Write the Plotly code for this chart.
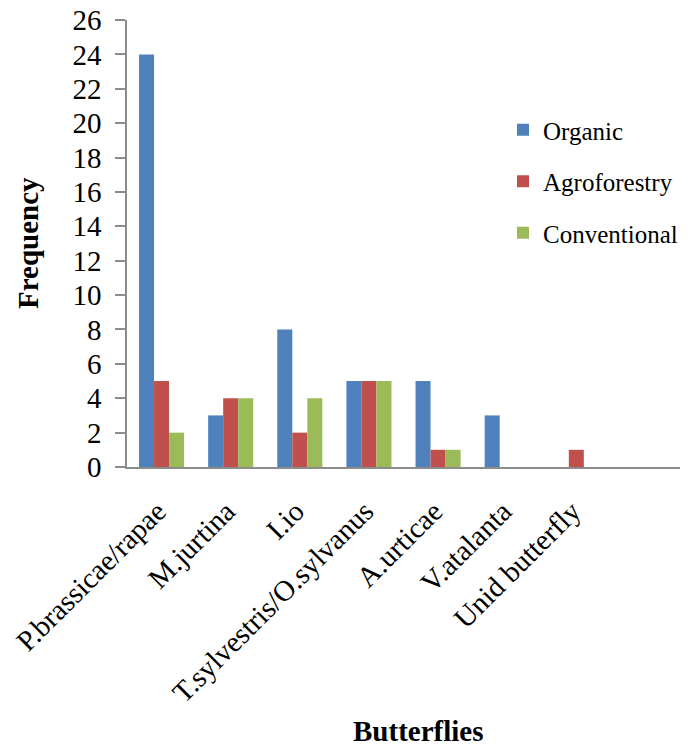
import plotly.graph_objects as go

categories = ["P.brassicae/rapae", "M.jurtina", "I.io", "T.sylvestris/O.sylvanus",
              "A.urticae", "V.atalanta", "Unid butterfly"]
organic = [24, 3, 8, 5, 5, 3, 0]
agroforestry = [5, 4, 2, 5, 1, 0, 1]
conventional = [2, 4, 4, 5, 1, 0, 0]
series_names = ["Organic", "Agroforestry", "Conventional"]
colors = ["#4F81BD", "#C0504D", "#9BBB59"]
y_ticks = list(range(0, 27, 2))

FONT = "Liberation Serif"
W, H = 691, 744
L, R, T, B = 127, 11, 20, 277
pw = W - L - R
ph = H - T - B

fig = go.Figure()
for name, vals, col in zip(series_names, [organic, agroforestry, conventional], colors):
    fig.add_trace(go.Bar(x=categories, y=vals, name=name, marker_color=col,
                         marker_line_width=0, legendgroup=name))

def px_x(p):
    return (p - L) / pw

def px_y(p):
    return (H - B - p) / ph

fig.update_layout(
    width=W, height=H,
    margin=dict(l=L, r=R, t=T, b=B, autoexpand=False),
    paper_bgcolor="white", plot_bgcolor="white",
    barmode="group", bargap=0.348, bargroupgap=0,
    font=dict(family=FONT, color="black"),
    showlegend=True,
    legend=dict(x=px_x(503), y=px_y(107), xanchor="left", yanchor="top",
                font=dict(family=FONT, size=25), traceorder="grouped",
                tracegroupgap=16, bgcolor="rgba(0,0,0,0)"),
    xaxis=dict(type="category", range=[-0.5, 7.5], showline=True, linecolor="#8C8C8C",
               linewidth=1.5, ticks="", tickangle=-45, showgrid=False, zeroline=False,
               ticklabelstandoff=14, ticklabelshift=-4,
               tickfont=dict(family=FONT, size=29), fixedrange=True),
    yaxis=dict(range=[0, 26], tickvals=y_ticks, showline=True, linecolor="#8C8C8C",
               linewidth=1.5, ticks="outside", ticklen=10, tickcolor="#8C8C8C",
               tickwidth=1.5, showgrid=False, zeroline=False, ticklabelstandoff=8,
               tickfont=dict(family=FONT, size=29), fixedrange=True),
    annotations=[
        dict(text="<b>Frequency</b>", textangle=-90, xref="paper", yref="paper",
             x=px_x(28), y=px_y(243), xanchor="center", yanchor="middle",
             showarrow=False, font=dict(family=FONT, size=29)),
        dict(text="<b>Butterflies</b>", xref="paper", yref="paper",
             x=px_x(418), y=px_y(713), xanchor="center", yanchor="top",
             showarrow=False, font=dict(family=FONT, size=29)),
    ],
)

fig.write_html("out.html")
